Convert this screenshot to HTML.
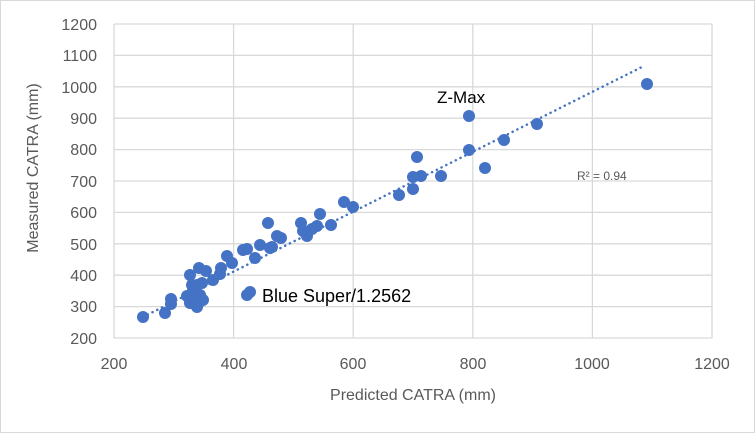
<!DOCTYPE html>
<html><head><meta charset="utf-8"><style>
body{margin:0;background:#fff}
svg{display:block;font-family:"Liberation Sans",sans-serif}
</style></head><body>
<svg width="755" height="433" viewBox="0 0 755 433">
<rect x="0.5" y="0.5" width="754" height="432" fill="#fff" stroke="#d9d9d9"/>
<g stroke="#d9d9d9" stroke-width="1.3">
<line x1="114" y1="24" x2="712" y2="24"/><line x1="114" y1="55.4" x2="712" y2="55.4"/><line x1="114" y1="86.8" x2="712" y2="86.8"/><line x1="114" y1="118.2" x2="712" y2="118.2"/><line x1="114" y1="149.6" x2="712" y2="149.6"/><line x1="114" y1="181" x2="712" y2="181"/><line x1="114" y1="212.4" x2="712" y2="212.4"/><line x1="114" y1="243.8" x2="712" y2="243.8"/><line x1="114" y1="275.2" x2="712" y2="275.2"/><line x1="114" y1="306.6" x2="712" y2="306.6"/><line x1="114" y1="338" x2="712" y2="338"/>
<line x1="114" y1="24" x2="114" y2="338"/><line x1="233.6" y1="24" x2="233.6" y2="338"/><line x1="353.2" y1="24" x2="353.2" y2="338"/><line x1="472.8" y1="24" x2="472.8" y2="338"/><line x1="592.4" y1="24" x2="592.4" y2="338"/><line x1="712" y1="24" x2="712" y2="338"/>
</g>
<g fill="#595959" font-size="16" text-anchor="end">
<text x="97" y="30">1200</text><text x="97" y="61">1100</text><text x="97" y="93">1000</text><text x="97" y="124">900</text><text x="97" y="155">800</text><text x="97" y="187">700</text><text x="97" y="218">600</text><text x="97" y="250">500</text><text x="97" y="281">400</text><text x="97" y="312">300</text><text x="97" y="344">200</text>
</g>
<g fill="#595959" font-size="16" text-anchor="middle">
<text x="114" y="369">200</text><text x="234" y="369">400</text><text x="353" y="369">600</text><text x="473" y="369">800</text><text x="592" y="369">1000</text><text x="712" y="369">1200</text>
<text x="413" y="400" font-size="16">Predicted CATRA (mm)</text>
<text transform="translate(38,168) rotate(-90)" font-size="16">Measured CATRA (mm)</text>
</g>
<g fill="#4472C4">
<circle cx="143" cy="317" r="6"/><circle cx="165" cy="313" r="6"/><circle cx="171" cy="304" r="6"/><circle cx="171" cy="299" r="6"/>
<circle cx="187" cy="296" r="6"/><circle cx="190" cy="303" r="6"/><circle cx="193" cy="290" r="6"/><circle cx="195" cy="298" r="6"/><circle cx="198" cy="304" r="6"/><circle cx="200" cy="295" r="6"/><circle cx="203" cy="300" r="6"/><circle cx="197" cy="307" r="6"/><circle cx="197" cy="285" r="6"/><circle cx="202" cy="283" r="6"/><circle cx="192" cy="285" r="6"/>
<circle cx="190" cy="275" r="6"/><circle cx="199" cy="268" r="6"/><circle cx="206" cy="271" r="6"/><circle cx="213" cy="280" r="6"/><circle cx="220" cy="274" r="6"/><circle cx="221" cy="268" r="6"/>
<circle cx="227" cy="256" r="6"/><circle cx="232" cy="263" r="6"/><circle cx="243" cy="250" r="6"/><circle cx="247" cy="249" r="6"/><circle cx="255" cy="258" r="6"/><circle cx="260" cy="245" r="6"/>
<circle cx="268" cy="223" r="6"/><circle cx="270" cy="248" r="6"/><circle cx="272" cy="247" r="6"/><circle cx="277" cy="236" r="6"/><circle cx="281" cy="238" r="6"/>
<circle cx="247" cy="295" r="6"/><circle cx="250" cy="292" r="6"/>
<circle cx="301" cy="223" r="6"/><circle cx="303" cy="231" r="6"/><circle cx="307" cy="236" r="6"/><circle cx="312" cy="229" r="6"/><circle cx="317" cy="226" r="6"/><circle cx="320" cy="214" r="6"/><circle cx="331" cy="225" r="6"/><circle cx="344" cy="202" r="6"/><circle cx="353" cy="207" r="6"/>
<circle cx="399" cy="195" r="6"/><circle cx="413" cy="189" r="6"/><circle cx="413" cy="177" r="6"/><circle cx="421" cy="176" r="6"/><circle cx="417" cy="157" r="6"/><circle cx="441" cy="176" r="6"/>
<circle cx="469" cy="150" r="6"/><circle cx="469" cy="116" r="6"/><circle cx="485" cy="168" r="6"/><circle cx="504" cy="140" r="6"/><circle cx="537" cy="124" r="6"/><circle cx="647" cy="84" r="6"/>
</g>
<line x1="143" y1="317" x2="644" y2="66" stroke="#4472C4" stroke-width="2.5" stroke-linecap="round" stroke-dasharray="0.1 5.2"/>
<text x="437" y="103" font-size="17" fill="#000">Z-Max</text>
<text x="262" y="302" font-size="18" fill="#000">Blue Super/1.2562</text>
<text x="577" y="180" font-size="12" fill="#595959">R² = 0.94</text>
</svg>
</body></html>
